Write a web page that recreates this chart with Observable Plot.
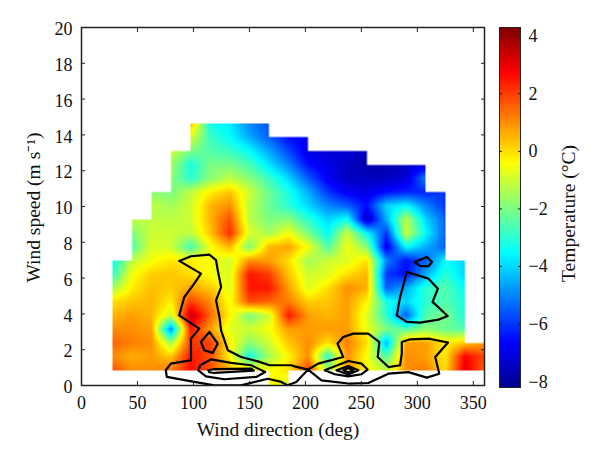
<!DOCTYPE html>
<html>
<head>
<meta charset="utf-8">
<script src="https://cdn.jsdelivr.net/npm/d3@7"></script>
<script src="https://cdn.jsdelivr.net/npm/@observablehq/plot@0.6"></script>
<style>
html,body{margin:0;padding:0;background:#fff}
#chart{position:relative;width:600px;height:461px;overflow:hidden}
#chart svg{position:absolute;left:0;top:0;background:transparent}
</style>
</head>
<body>
<div id="chart"></div>
<script>
const directions = [27.5,45,62.5,80,97.5,115,132.5,150,167.5,185,202.5,220,237.5,255,272.5,290,307.5,325,342.5,360];
const speeds = [0,.85,1.62,2.38,3.15,3.91,4.68,5.44,6.21,6.97,7.74,8.51,9.27,10.04,10.8,11.57,12.33,13.1,13.87,14.63];
const _ = null;
const temps = [
 [_,_,_,_,_,_,_,_,-0.2,-1,_,_,_,_,_,_,_,_,_,_],
 [1.8,1,1,1.2,2.6,1.8,.5,0,-.5,0,2,-1.5,1,-.3,-1.2,1,1.2,0,3,1.5],
 [1,.6,.8,.3,2.5,1.8,-.3,-3.3,-1.5,-.3,1,-3,1,-.5,-2.5,1,.8,-.2,2.8,1.8],
 [1.5,1.2,1,-1.5,2,2,-.3,-1.8,-1,.3,1,0,1.2,0,-4.5,.8,.8,-.2,.2,.8],
 [1,1,.8,-5,2.5,.8,-.8,-1,-.5,.8,.8,.8,.8,-.6,-2,-2.5,-1.8,-2.2,-2.5,_],
 [.5,.8,.5,-1,3.5,1.5,-.3,-2,-1,2.5,.8,.5,.8,-.8,-3,-5.5,-2.5,-2,-3.2,_],
 [0,.3,.5,-.2,2,1,-.5,1.8,1.5,1.2,.2,.3,.8,-.3,-3.2,-4,-3,-2.5,-3.2,_],
 [-1.5,-.2,.4,.2,.7,.3,-.8,2.5,2.5,.8,-.8,0,1,.6,-5.5,-4.5,-3,-2.5,-3.5,_],
 [-3,-.5,.2,.3,0,-.5,-.8,2.5,2,.3,-1,-.8,0,.5,-6,-6.5,-4.5,-3,-4,_],
 [-3.5,-1.2,-.5,-.1,-.2,-.4,-1,1,.8,0,-1.5,-1,-.8,0,-5,-6.5,-5.5,-3.5,-4,_],
 [_,-2.5,-.8,-1,-2.7,-.5,.5,-2,.5,.7,-.5,-2.5,-.5,-1.8,-7,-3.5,-4.5,-5.5,_,_],
 [_,-2,-1,-1,-1.2,.3,2.2,-.8,-1.5,-.5,-2,-3.5,-1,-3.5,-6,-1,-3.5,-5.5,_,_],
 [_,-1.2,-1.2,-1.2,-1,.5,1.8,-1.2,-2,-1.8,-3,-4,-3.3,-7.5,-4.5,-1.2,-4,-5.5,_,_],
 [_,_,-1.2,-1.5,-1,.5,1,-1.2,-2.2,-3,-4,-5,-5.5,-6.5,-4,-3.5,-5,-6,_,_],
 [_,_,-1.8,-2,-1.2,-.2,.3,-1,-2.2,-3.2,-4.5,-6,-6.8,-7,-6.5,-6.2,-6.2,-6,_,_],
 [_,_,_,-1.8,-3,-1.8,-1.2,-1.8,-2.8,-4,-5.5,-6.8,-7.5,-7.5,-7.5,-7.2,-5,_,_,_],
 [_,_,_,-1.5,-3.2,-2,-2,-2.6,-3.8,-5,-6.5,-7,-7.4,-7.8,-7.8,-7.5,-7,_,_,_],
 [_,_,_,-1,-2,-2.5,-2.8,-3.5,-4.6,-5.8,-7,-7.2,-7.3,-7.5,_,_,_,_,_,_],
 [_,_,_,_,-.8,-2.8,-3.5,-4.5,-5.5,-6.5,-6.8,_,_,_,_,_,_,_,_,_],
 [_,_,_,_,.5,-3.3,-3.7,-5,-5.6,_,_,_,_,_,_,_,_,_,_,_]
];
const cellTop = [9,12,14,17,19,19,19,19,18,18,17,17,17,16,16,16,14,9,3];
const cellBottom = [1,1,1,1,1,1,1,1,0,1,1,1,1,1,1,1,1,1,1];

const contourA = [[87.3,6.96],[97.8,7.22],[114.2,7.31],[120.2,7],[121.7,6.44],[124.7,5.5],[120.2,4.76],[123.2,3.83],[124.7,3.08],[130.7,1.97],[142.6,1.59],[157.6,1.35],[168,1.13],[187.5,1.13],[190.4,1.07],[202.4,.89],[211.4,1.22],[233.8,1.59],[228.7,2.34],[233.8,2.71],[242.8,2.9],[256.2,2.9],[266.1,2.43],[264.6,1.59],[274.2,1.03],[284.6,1.13],[286.1,1.78],[286.1,2.43],[293.6,2.58],[310,2.62],[327.4,2.4],[316,1.59],[319.6,.66],[308.5,.44],[292.1,.75],[274.2,.66],[256.2,.14],[238.3,.11],[214.4,.29],[202.4,.89],[191.9,.2],[183.9,.01],[178.5,.2],[166.5,.38],[142.6,.01],[118.7,.01],[100.7,.2],[76.2,.48],[75.3,.85],[79.8,1.22],[97.8,1.41],[97.8,2.62],[105.2,3.18],[87.3,3.92],[91.8,4.94],[100.7,5.69],[106.7,6.25],[87.3,6.96]];
const contourB = [[114.2,2.99],[121.7,2.34],[117.2,1.82],[109.7,1.97],[106.7,2.43],[114.2,2.99]];
const contourC = [[115.7,1.46],[133.6,1.26],[151.6,1.13],[164.1,.75],[156.1,.48],[127.6,.35],[111.2,.51],[104.3,.85],[106.1,1.13],[115.7,1.46]];
const contourD = [[113.3,.85],[118.7,.92],[151.6,.94],[154,.83],[118.7,.7],[114.2,.74],[113.3,.85]];
const contourE = [[290.6,6.34],[310,5.97],[318.4,5.41],[313.6,4.67],[327.1,3.88],[319,3.68],[302.5,3.51],[290.6,3.55],[281.6,3.92],[284.6,4.94],[290.6,6.34]];
const contourF = [[297.5,6.9],[308.5,7.18],[313,6.9],[310,6.66],[302.5,6.68],[297.5,6.9]];
const contourG = [[217.3,.85],[238.3,1.37],[250.2,1.22],[255.6,.89],[250.2,.63],[238.3,.51],[226.3,.63],[217.3,.85]];
const contourH = [[227.8,.85],[238.3,1.09],[247.3,.85],[238.3,.61],[227.8,.85]];
const contourI = [[233.8,.85],[238.3,.98],[242.8,.85],[238.3,.72],[233.8,.85]];
const contours = [contourA,contourB,contourC,contourD,contourE,contourF,contourG,contourH,contourI];

const colorStops = [-8.2,-6.64,-3.52,-.39,2.74,4.3];
const colorRange = ["#00008f","#0000ff","#00ffff","#ffff00","#ff0000","#800000"];
const colorBarTicks = [-8,-6,-4,-2,0,2,4];
const xTicks = [0,50,100,150,200,250,300,350];
const yTicks = [0,2,4,6,8,10,12,14,16,18,20];
const serif = "'Liberation Serif',serif";
const ink = "#222";
const textInk = "#111";

function temperature(x, y) {
  const i = d3.bisectRight(directions, x) - 1;
  const j = d3.bisectRight(speeds, y) - 1;
  if (i < 0 || i >= cellTop.length || j < 0) return NaN;
  if (j < cellBottom[i] || j >= cellTop[i]) return NaN;
  const a = (x - directions[i]) / (directions[i+1] - directions[i]);
  const b = (y - speeds[j]) / (speeds[j+1] - speeds[j]);
  const v00 = temps[j][i], v10 = temps[j][i+1], v01 = temps[j+1][i], v11 = temps[j+1][i+1];
  return (1-a)*(1-b)*v00 + a*(1-b)*v10 + (1-a)*b*v01 + a*b*v11;
}

const colorScale = {type:"linear", domain:colorStops, range:colorRange, interpolate:"rgb", clamp:true};
const noLabel = () => "";

const main = Plot.plot({
  width:600, height:461,
  marginLeft:81, marginRight:116, marginTop:27, marginBottom:76,
  style:{fontFamily:serif, background:"transparent", overflow:"visible"},
  x:{domain:[0,360]},
  y:{domain:[0,20]},
  color:colorScale,
  marks:[
    Plot.raster({fill:temperature, x1:0, x2:360, y1:0, y2:20, pixelSize:.5}),
    ...contours.map(c => Plot.line(c, {x:d=>d[0], y:d=>d[1], stroke:"#000", strokeWidth:2.2, strokeLinejoin:"round", clip:true})),
    Plot.frame({stroke:ink, strokeWidth:1.5}),
    Plot.axisX({ticks:xTicks, anchor:"bottom", tickSize:-4, tickPadding:15, stroke:ink, fontSize:18, fill:textInk, label:null}),
    Plot.axisX({ticks:xTicks, anchor:"top", tickSize:-4, tickFormat:noLabel, stroke:ink, label:null}),
    Plot.axisY({ticks:yTicks, anchor:"left", tickSize:-4, tickFormat:noLabel, stroke:ink, label:null}),
    Plot.axisY({ticks:yTicks, anchor:"left", tickSize:0, tickPadding:9, dy:2, fontSize:18, fill:textInk, label:null}),
    Plot.axisY({ticks:yTicks, anchor:"right", tickSize:-4, tickFormat:noLabel, stroke:ink, label:null}),
    Plot.text(["Wind direction (deg)"], {frameAnchor:"bottom", lineAnchor:"middle", dx:-5, dy:44, fontSize:19.5, fill:textInk}),
    Plot.text(["Wind speed (m s⁻¹)"], {frameAnchor:"left", textAnchor:"middle", lineAnchor:"middle", rotate:-90, dx:-48, dy:1, fontSize:19.5, fill:textInk})
  ]
});

const bar = Plot.plot({
  width:600, height:461,
  marginLeft:499, marginRight:80, marginTop:27, marginBottom:74,
  style:{fontFamily:serif, background:"transparent", overflow:"visible"},
  x:{domain:[0,1], axis:null},
  y:{domain:[-8.2,4.3], axis:null},
  color:colorScale,
  marks:[
    Plot.raster({fill:(x,y)=>y, x1:0, x2:1, y1:-8.2, y2:4.3, pixelSize:1}),
    Plot.frame({stroke:ink, strokeWidth:1}),
    Plot.axisY({ticks:colorBarTicks, anchor:"right", tickSize:-3, tickPadding:11, stroke:ink, fontSize:18, fill:textInk, textAnchor:"start", tickFormat:d=>d<0?"−"+(-d):String(d), label:null}),
    Plot.axisY({ticks:colorBarTicks, anchor:"left", tickSize:-3, tickFormat:noLabel, stroke:ink, label:null}),
    Plot.text(["Temperature (°C)"], {frameAnchor:"right", textAnchor:"middle", lineAnchor:"middle", rotate:-90, dx:48, dy:6, fontSize:19.5, fill:textInk})
  ]
});

document.getElementById("chart").append(main, bar);
</script>
</body>
</html>
